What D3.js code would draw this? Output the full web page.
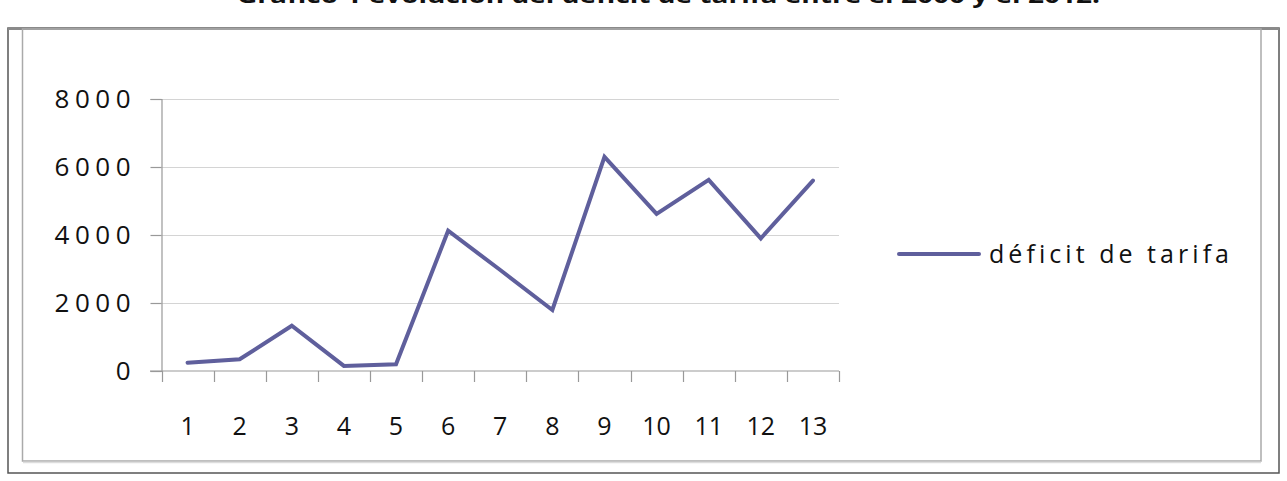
<!DOCTYPE html>
<html>
<head>
<meta charset="utf-8">
<script src="https://cdn.jsdelivr.net/npm/d3@7"></script>
<style>
  html, body { margin: 0; padding: 0; background: #fff; }
  svg { display: block; }
  text { font-family: "Open Sans", Lato, sans-serif; fill: #111; font-variant-ligatures: none; }
</style>
</head>
<body>
<svg id="chart" width="1287" height="481"></svg>
<script>
const title = "Gráfico 1 evolución del déficit de tarifa entre el 2000 y el 2012.";
const categories = ["1","2","3","4","5","6","7","8","9","10","11","12","13"];
const seriesName = "déficit de tarifa";
const values = [245, 345, 1330, 150, 200, 4125, 2970, 1795, 6300, 4620, 5620, 3900, 5600];
const yTicks = [0, 2000, 4000, 6000, 8000];

const svg = d3.select("#chart");

// title (mostly cut off at the top, as in the reference)
svg.append("text")
  .attr("x", 237).attr("y", 3)
  .attr("textLength", 863).attr("lengthAdjust", "spacingAndGlyphs")
  .style("font-size", "22px").style("font-weight", "bold").attr("fill", "#333")
  .text(title);

// outer frame
svg.append("rect").attr("x", 8).attr("y", 28).attr("width", 1271).attr("height", 445)
  .attr("fill", "none").attr("stroke", "#555").attr("stroke-width", 1.5);
svg.append("line").attr("x1", 8).attr("x2", 1279).attr("y1", 28.5).attr("y2", 28.5)
  .attr("stroke", "#8a8a8a").attr("stroke-width", 3);
// inner frame
svg.append("rect").attr("x", 22.5).attr("y", 29).attr("width", 1238.5).attr("height", 432)
  .attr("fill", "none").attr("stroke", "#aaa").attr("stroke-width", 1.5);
svg.append("line").attr("x1", 23).attr("x2", 1261).attr("y1", 462.5).attr("y2", 462.5)
  .attr("stroke", "#ddd").attr("stroke-width", 1.5);

const x = d3.scaleBand().domain(categories).range([161.5, 839]);
const y = d3.scaleLinear().domain([0, 8000]).range([371, 99]);

// gridlines
svg.append("g").selectAll("line").data(yTicks.filter(d => d > 0)).join("line")
  .attr("x1", 161.5).attr("x2", 839)
  .attr("y1", d => Math.round(y(d)) + 0.5).attr("y2", d => Math.round(y(d)) + 0.5)
  .attr("stroke", "#d4d4d4").attr("stroke-width", 1.2);

// y axis
const yAxis = svg.append("g").attr("transform", "translate(161.5,0)")
  .call(d3.axisLeft(y).tickValues(yTicks).tickSize(11).tickPadding(20).tickFormat(d3.format("d")));
yAxis.select(".domain").attr("stroke", "#999").attr("stroke-width", 1.2);
yAxis.selectAll(".tick line").attr("stroke", "#999").attr("stroke-width", 1.2);
yAxis.selectAll(".tick text").style("font-size", "26px").style("letter-spacing", "5.5px")
  .style("font-family", "\"Open Sans\", sans-serif").attr("fill", "#111").attr("dx", "5.5px");

// x axis with ticks at band boundaries
const xAxisG = svg.append("g").attr("transform", "translate(0,371)");
xAxisG.append("line").attr("x1", 150).attr("x2", 839).attr("y1", 0).attr("y2", 0)
  .attr("stroke", "#999").attr("stroke-width", 1.2);
const bounds = categories.map(c => x(c)).concat([x.range()[1]]);
xAxisG.selectAll("line.t").data(bounds).join("line").attr("class", "t")
  .attr("x1", d => Math.round(d) + 0.5).attr("x2", d => Math.round(d) + 0.5)
  .attr("y1", 0).attr("y2", 11).attr("stroke", "#999").attr("stroke-width", 1.2);
xAxisG.selectAll("text").data(categories).join("text")
  .attr("x", d => x(d) + x.bandwidth() / 2).attr("y", 64)
  .attr("text-anchor", "middle").style("font-size", "25px")
  .text(d => d);

// line
const line = d3.line().x((d, i) => x(categories[i]) + x.bandwidth() / 2).y(d => y(d));
svg.append("path").datum(values).attr("d", line)
  .attr("fill", "none").attr("stroke", "#5f5f9c").attr("stroke-width", 4)
  .attr("stroke-linejoin", "miter").attr("stroke-linecap", "round");

// legend
svg.append("line").attr("x1", 899).attr("x2", 979).attr("y1", 254).attr("y2", 254)
  .attr("stroke", "#5f5f9c").attr("stroke-width", 4).attr("stroke-linecap", "round");
svg.append("text").attr("x", 989).attr("y", 263)
  .attr("textLength", 240).attr("lengthAdjust", "spacing")
  .style("font-size", "25px").text(seriesName);
</script>
</body>
</html>
